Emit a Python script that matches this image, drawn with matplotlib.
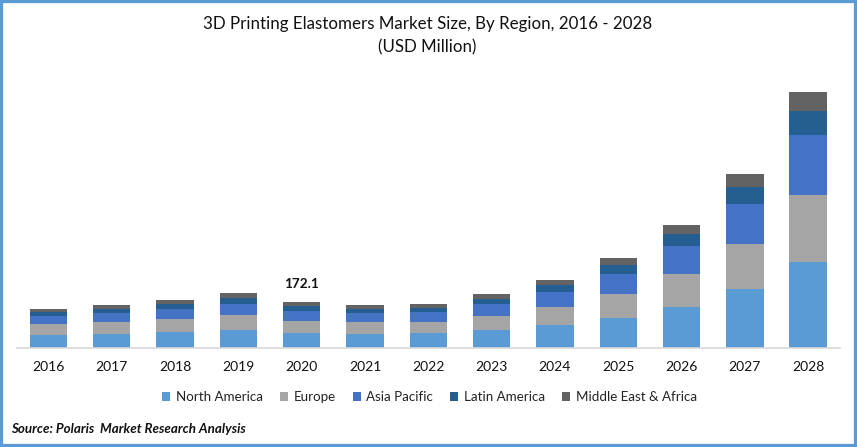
#!/usr/bin/env python3
"""3D Printing Elastomers market size chart"""

import matplotlib

matplotlib.use("Agg")

import matplotlib.pyplot as plt
import numpy as np
from matplotlib.patches import Rectangle

plt.rcParams["font.family"] = ["Lato", "DejaVu Sans"]

years = ["2016", "2017", "2018", "2019", "2020", "2021", "2022",
         "2023", "2024", "2025", "2026", "2027", "2028"]
north_america = [46.7, 50.5, 58.1, 65.7, 54.3, 50.5, 53.2, 64.6, 83.6, 110.2, 152.0, 220.4, 323.0]
europe = [41.8, 45.6, 49.4, 57.0, 45.6, 45.6, 41.8, 53.2, 68.4, 91.2, 125.4, 171.0, 254.6]
asia_pacific = [30.4, 34.2, 38.0, 41.8, 38.0, 34.2, 38.0, 45.6, 57.0, 76.0, 106.4, 152.0, 228.0]
latin_america = [15.2, 15.2, 19.0, 22.8, 19.0, 15.2, 15.2, 19.0, 26.6, 34.2, 45.6, 64.6, 91.2]
middle_east = [11.4, 15.2, 15.2, 19.0, 15.2, 15.2, 15.2, 19.0, 19.0, 26.6, 34.2, 49.4, 72.2]

series = [
    ("North America", north_america, "#5B9BD5"),
    ("Europe", europe, "#A5A5A5"),
    ("Asia Pacific", asia_pacific, "#4472C4"),
    ("Latin America", latin_america, "#255E91"),
    ("Middle East & Africa", middle_east, "#636363"),
]

W, H = 857, 447
fig = plt.figure(figsize=(W / 100, H / 100), dpi=100)
ax = fig.add_axes([16.8 / W, (H - 347.5) / H, (840 - 17) / W, 267.5 / H])

x = np.arange(len(years))
bottom = np.zeros(len(years))
for name, values, color in series:
    ax.bar(x, values, width=0.59, bottom=bottom, color=color, label=name)
    bottom += np.array(values)

ax.set_xlim(-0.5, 12.5)
ax.set_ylim(0, 1016)
ax.set_yticks([])
ax.set_xticks(x)
ax.set_xticklabels(years, fontsize=10, color="#111111")
ax.tick_params(axis="x", length=0, pad=10)
for side in ["top", "left", "right"]:
    ax.spines[side].set_visible(False)
ax.spines["bottom"].set_color("#D9D9D9")
ax.spines["bottom"].set_linewidth(1.2)

ax.annotate("172.1", (4, bottom[4]), xytext=(0, 9), textcoords="offset points",
            ha="center", va="bottom", fontsize=9.7, fontweight="bold", color="#111111")

fig.text(427.5 / W, 1 - 24 / H, "3D Printing Elastomers Market Size, By Region, 2016 - 2028",
         ha="center", va="center", fontsize=12.2, color="#111111")
fig.text(427.5 / W, 1 - 47 / H, "(USD Million)", ha="center", va="center",
         fontsize=12.2, color="#111111")

fig.legend(loc="center", bbox_to_anchor=(429.5 / W, 1 - 397 / H), ncol=5, frameon=False,
           fontsize=9.6, handlelength=0.6, handleheight=0.6, handletextpad=0.4,
           columnspacing=1.3, labelcolor="#222222")

fig.text(11 / W, 1 - 429 / H, "Source: Polaris  Market Research Analysis", ha="left",
         va="center", fontsize=9.6, fontweight="bold", fontstyle="italic", color="#111111")

# blue frame round the whole picture
fig.add_artist(Rectangle((0, 0), 1, 1, transform=fig.transFigure, fill=False,
                         edgecolor="#5B9BD5", linewidth=4.5))

fig.savefig("out.png", dpi=100)
plt.close(fig)
